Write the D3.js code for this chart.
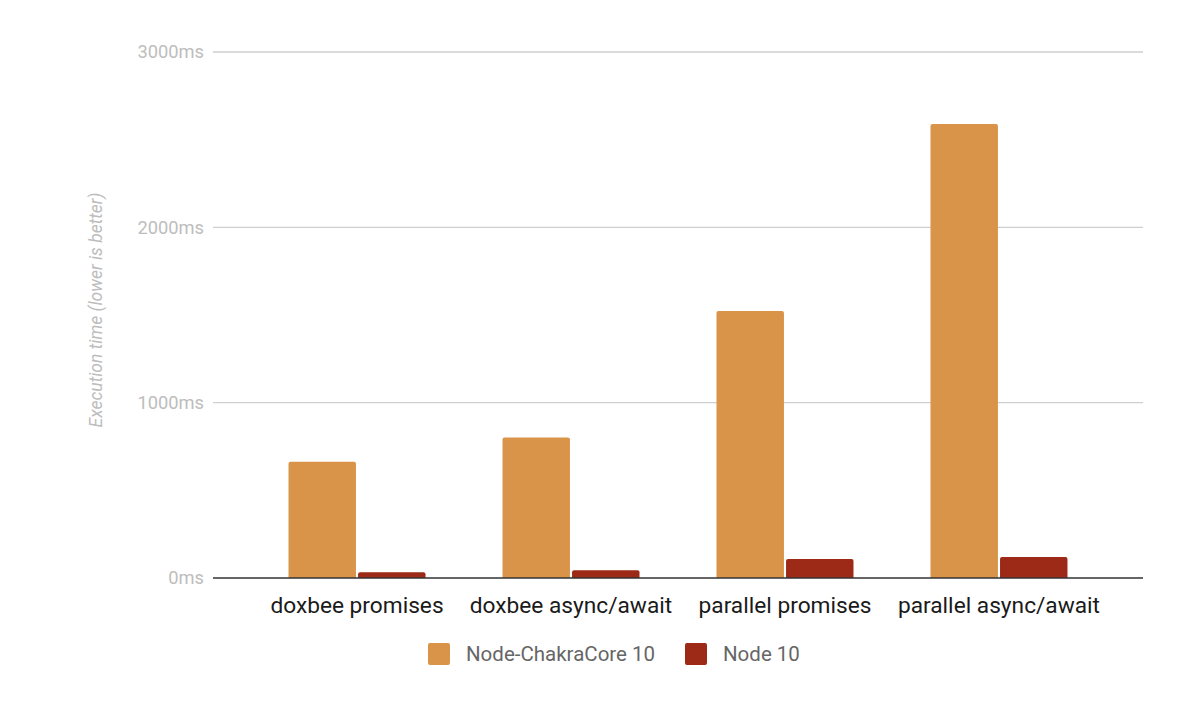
<!DOCTYPE html>
<html><head><meta charset="utf-8">
<script src="https://cdn.jsdelivr.net/npm/d3@7"></script>
<style>body{margin:0;background:#fff;font-family:Roboto,"Noto Sans",sans-serif;}</style>
</head><body><svg id="c" width="1200" height="720"></svg>
<script>
const categories = ["doxbee promises","doxbee async/await","parallel promises","parallel async/await"];
const seriesNames = ["Node-ChakraCore 10","Node 10"];
const chakraValues = [663, 802, 1523, 2590];
const node10Values = [33, 44, 108, 120];
const yTicks = [0, 1000, 2000, 3000];
const colors = ["#D9944A","#9C2A17"];

const svg = d3.select("#c");
const plotLeft = 213, plotRight = 1143, plotTop = 52, plotBottom = 578;
const y = d3.scaleLinear().domain([0,3000]).range([plotBottom, plotTop]);
const x0 = d3.scaleBand().domain(categories).range([plotLeft,plotRight]).paddingOuter(0.173).paddingInner(0);
const groupPad = (x0.bandwidth()-137)/2;
const x1 = d3.scaleBand().domain(seriesNames).range([groupPad, x0.bandwidth()-groupPad]).paddingInner(0.03);

// gridlines
svg.append("g").selectAll("line").data(yTicks.filter(d=>d>0)).join("line")
  .attr("x1",plotLeft).attr("x2",plotRight).attr("y1",d=>y(d)).attr("y2",d=>y(d))
  .attr("stroke","#cfcfcf").attr("stroke-width",1.3);
// tick labels
svg.append("g").selectAll("text").data(yTicks).join("text")
  .attr("x",plotLeft-9).attr("y",d=>y(d)).attr("dy","0.35em").attr("text-anchor","end")
  .attr("fill","#bdbdbd").attr("font-size",18.3).text(d=>d+"ms");
// axis title
svg.append("text").attr("transform",`translate(102,310) rotate(-90)`).attr("text-anchor","middle")
  .attr("fill","#bdbdbd").attr("font-size",17.5).attr("font-style","italic")
  .text("Execution time (lower is better)");

const data = categories.map((c,i)=>({cat:c, vals:[chakraValues[i], node10Values[i]]}));
const g = svg.append("g");
data.forEach(d=>{
  d.vals.forEach((v,j)=>{
    const bx = x0(d.cat)+x1(seriesNames[j]);
    const w = x1.bandwidth();
    const r = 2;
    g.append("path").attr("fill",colors[j])
      .attr("d",`M${bx},${y(0)} V${y(v)+r} Q${bx},${y(v)} ${bx+r},${y(v)} H${bx+w-r} Q${bx+w},${y(v)} ${bx+w},${y(v)+r} V${y(0)} Z`);
  });
});
// baseline
svg.append("line").attr("x1",plotLeft).attr("x2",plotRight).attr("y1",y(0)).attr("y2",y(0))
  .attr("stroke","#333").attr("stroke-width",1.6);
// category labels
svg.append("g").selectAll("text").data(categories).join("text")
  .attr("x",d=>x0(d)+x0.bandwidth()/2).attr("y",613).attr("text-anchor","middle")
  .attr("fill","#1a1a1a").attr("font-size",22.7).text(d=>d);

// legend
const legendX = [428, 685];
const lg = svg.append("g");
seriesNames.forEach((s,i)=>{
  lg.append("rect").attr("x",legendX[i]).attr("y",643).attr("width",22).attr("height",22).attr("rx",2).attr("fill",colors[i]);
  lg.append("text").attr("x",legendX[i]+38).attr("y",654).attr("dy","0.35em").attr("fill","#666").attr("font-size",20.5).text(s);
});
</script></body></html>
